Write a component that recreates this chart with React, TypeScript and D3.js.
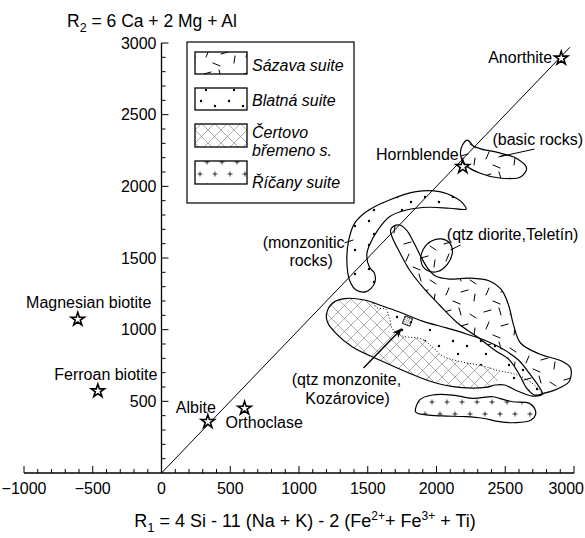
import React from 'react';
import * as d3 from 'd3';

type P = [number, number];

const xTickValues = [-1000, -500, 0, 500, 1000, 1500, 2000, 2500, 3000];
const yTickValues = [500, 1000, 1500, 2000, 2500, 3000];

const sazavaOutline: P[] = [[1680,1716],[1731,1730],[1782,1695],[1833,1612],[1884,1514],[1935,1430],[1993,1374],[2095,1353],[2240,1360],[2385,1340],[2473,1277],[2524,1172],[2560,1033],[2611,907],[2749,830],[2909,781],[2975,733],[2967,642],[2909,600],[2793,558],[2713,544],[2655,593],[2604,684],[2531,788],[2422,858],[2298,949],[2153,1047],[2022,1172],[1905,1291],[1804,1416],[1731,1542],[1680,1640],[1665,1688]];
const teletinOutline: P[] = [[2036,1633],[2095,1605],[2116,1542],[2080,1458],[2007,1406],[1927,1416],[1887,1479],[1905,1563],[1964,1619]];
const monzoniticOutline: P[] = [[2216,1842],[2189,1884],[2145,1917],[2022,1963],[1852,1963],[1658,1905],[1489,1823],[1404,1742],[1362,1626],[1348,1486],[1367,1347],[1416,1277],[1489,1265],[1549,1323],[1549,1393],[1513,1435],[1493,1521],[1513,1591],[1573,1695],[1658,1788],[1780,1835],[1949,1854],[2095,1847]];
const basicRocksOutline: P[] = [[2225,2323],[2269,2281],[2327,2260],[2458,2233],[2589,2191],[2655,2128],[2611,2065],[2458,2058],[2313,2093],[2211,2149],[2175,2219],[2189,2288]];
const certovoTop: P[] = [[1200,1109],[1244,1186],[1331,1217],[1476,1207],[1607,1165],[1731,1123],[1898,1060],[2073,1012],[2218,970],[2364,921],[2495,858],[2596,788],[2684,684],[2756,586],[2771,551]];
const certovoBottom: P[] = [[2698,537],[2589,572],[2495,614],[2429,614],[2356,597],[2167,597],[1971,635],[1782,705],[1585,788],[1389,879],[1265,977],[1207,1053]];
const kozarovDotted: P[] = [[1542,1186],[1571,1151],[1629,1144],[1658,1081],[1680,1005],[1753,956],[1891,935],[1971,879],[2044,816],[2189,774],[2335,747],[2458,712],[2567,691],[2662,649],[2735,593],[2764,558]];
const ricanyOutline: P[] = [[1847,428],[1876,509],[1971,544],[2116,544],[2262,521],[2407,532],[2458,521],[2553,497],[2676,486],[2713,451],[2720,405],[2689,370],[2580,351],[2458,358],[2335,382],[2216,393],[2044,398],[1925,405],[1862,417]];

const mineralNames = ['Anorthite', 'Hornblende', 'Magnesian biotite', 'Ferroan biotite', 'Albite', 'Orthoclase'];
const mineralR1 = [2907, 2191, -609, -463, 337, 604];
const mineralR2 = [2893, 2137, 1072, 572, 358, 451];

const referenceLine: P[] = [[0, 0], [2970, 2970]];
const kozarovicePoint: P = [1789, 1060];
const kozaroviceArrow: P[] = [[1469, 733], [1745, 1005]];
const basicLeader: P[] = [[2713, 2260], [2451, 2205]];
const teletinLeader: P[] = [[2175, 1591], [2102, 1556]];
const monzLeader: P[] = [[1331, 1605], [1396, 1626]];

const fieldLabels: { text: string; at: P; anchor: string }[] = [
  { text: '(basic rocks)', at: [2407, 2288], anchor: 'start' },
  { text: '(qtz diorite,Teletín)', at: [2075, 1626], anchor: 'start' },
  { text: '(monzonitic', at: [1331, 1570], anchor: 'end' },
  { text: 'rocks)', at: [1247, 1444], anchor: 'end' },
  { text: '(qtz monzonite,', at: [1345, 614], anchor: 'middle' },
  { text: 'Kozárovice)', at: [1353, 481], anchor: 'middle' },
];

const legendLabels = [['Sázava suite'], ['Blatná suite'], ['Čertovo', 'břemeno s.'], ['Říčany suite']];
const legendPatterns = ['dashPat', 'dotPat', 'hatchPat', 'plusPat'];

const FONT = '"Liberation Sans", Arial, Helvetica, sans-serif';

export default function App() {
  const x = d3.scaleLinear().domain([-1000, 3000]).range([24, 574]);
  const y = d3.scaleLinear().domain([0, 3000]).range([473, 43]);
  const closed = d3.line<P>().x(d => x(d[0])).y(d => y(d[1])).curve(d3.curveCatmullRomClosed.alpha(0.5));
  const open = d3.line<P>().x(d => x(d[0])).y(d => y(d[1])).curve(d3.curveCatmullRom.alpha(0.5));
  const straight = d3.line<P>().x(d => x(d[0])).y(d => y(d[1]));
  const starPath = d3.symbol().type(d3.symbolStar).size(55)() as string;

  const certovoPoly: P[] = [...certovoTop.slice(0, 4), ...kozarovDotted.slice(0, 12), ...certovoBottom.slice(3)];
  const kozarPoly: P[] = [kozarovDotted[0], ...certovoTop.slice(4), ...certovoBottom.slice(0, 3), ...kozarovDotted.slice(1, 12).reverse()];
  const certovoOutline: P[] = [...certovoTop, ...certovoBottom];

  const xMinor = d3.range(-1000, 3001, 100);
  const yMinor = d3.range(100, 3001, 100);

  const mineralOffsets: Record<string, { dx: number; dy: number; anchor: string }> = {
    'Anorthite': { dx: -9, dy: 5, anchor: 'end' },
    'Hornblende': { dx: -4, dy: -7, anchor: 'end' },
    'Magnesian biotite': { dx: 11, dy: -11, anchor: 'middle' },
    'Ferroan biotite': { dx: 8, dy: -11, anchor: 'middle' },
    'Albite': { dx: -12, dy: -9, anchor: 'middle' },
    'Orthoclase': { dx: -19, dy: 20, anchor: 'start' },
  };

  const legendX = 187, legendY = 42, legendW = 167, legendH = 161;
  const swatchY = [52, 88, 124, 161];
  const swatchH = [22, 22, 23, 23];
  const textY = [[70.5], [105.5], [138], [187.5]];
  const textY2 = 155.5;

  return (
    <svg width={585} height={538} style={{ position: 'absolute', left: 0, top: 0, background: '#fff' }} fontFamily={FONT}>
      <defs>
        <pattern id="dashPat" patternUnits="userSpaceOnUse" width={40} height={34}>
          <g stroke="#000" strokeWidth={1} strokeLinecap="round">
            <line x1={4} y1={6} x2={11} y2={4} />
            <line x1={19} y1={2} x2={21} y2={9} />
            <line x1={30} y1={8} x2={36} y2={12} />
            <line x1={9} y1={16} x2={6} y2={23} />
            <line x1={21} y1={20} x2={28} y2={18} />
            <line x1={35} y1={22} x2={34} y2={29} />
            <line x1={13} y1={29} x2={20} y2={32} />
          </g>
        </pattern>
        <pattern id="dotPat" patternUnits="userSpaceOnUse" width={28} height={24}>
          <circle cx={5} cy={5} r={1.2} fill="#000" />
          <circle cx={19} cy={10} r={1.2} fill="#000" />
          <circle cx={10} cy={18} r={1.2} fill="#000" />
        </pattern>
        <pattern id="fineDotPat" patternUnits="userSpaceOnUse" width={2} height={2}>
          <rect x={0} y={0} width={1} height={1} fill="#555" />
        </pattern>
        <pattern id="hatchPat" patternUnits="userSpaceOnUse" width={13} height={13}>
          <g stroke="#777" strokeWidth={0.6}>
            <line x1={0} y1={0} x2={13} y2={13} />
            <line x1={13} y1={0} x2={0} y2={13} />
          </g>
        </pattern>
        <pattern id="plusPat" patternUnits="userSpaceOnUse" width={30} height={24}>
          <g stroke="#000" strokeWidth={0.8}>
            <line x1={2.5} y1={6} x2={7.5} y2={6} /><line x1={5} y1={3.5} x2={5} y2={8.5} />
            <line x1={17.5} y1={6} x2={22.5} y2={6} /><line x1={20} y1={3.5} x2={20} y2={8.5} />
            <line x1={9.5} y1={18} x2={14.5} y2={18} /><line x1={12} y1={15.5} x2={12} y2={20.5} />
            <line x1={24.5} y1={18} x2={29.5} y2={18} /><line x1={27} y1={15.5} x2={27} y2={20.5} />
          </g>
        </pattern>
        <marker id="arrowHead" viewBox="0 0 10 10" refX={9} refY={5} markerWidth={7} markerHeight={7} orient="auto">
          <path d="M0,1 L10,5 L0,9 L3,5 Z" fill="#000" />
        </marker>
      </defs>

      {/* pattern fills */}
      <path d={closed(sazavaOutline)!} fill="url(#dashPat)" />
      <path d={closed(teletinOutline)!} fill="url(#dashPat)" />
      <path d={closed(basicRocksOutline)!} fill="url(#dashPat)" />
      <path d={closed(monzoniticOutline)!} fill="url(#dotPat)" />
      <path d={closed(certovoPoly)!} fill="url(#hatchPat)" />
      <path d={closed(kozarPoly)!} fill="url(#dotPat)" />
      <path d={closed(ricanyOutline)!} fill="url(#plusPat)" />

      {/* outlines */}
      <g fill="none" stroke="#000" strokeWidth={1.2}>
        <path d={closed(sazavaOutline)!} />
        <path d={closed(teletinOutline)!} />
        <path d={closed(basicRocksOutline)!} />
        <path d={closed(monzoniticOutline)!} />
        <path d={closed(certovoOutline)!} />
        <path d={closed(ricanyOutline)!} />
      </g>
      <path d={open(kozarovDotted)!} fill="none" stroke="#000" strokeWidth={1} strokeDasharray="1 2" />

      {/* reference line */}
      <path d={straight(referenceLine)!} stroke="#000" strokeWidth={1} fill="none" />

      {/* leaders */}
      <g stroke="#000" strokeWidth={1} fill="none">
        <path d={straight(basicLeader)!} />
        <path d={straight(teletinLeader)!} />
        <path d={straight(monzLeader)!} />
        <path d={straight(kozaroviceArrow)!} strokeWidth={1.4} markerEnd="url(#arrowHead)" />
      </g>
      <rect x={x(kozarovicePoint[0]) - 4} y={y(kozarovicePoint[1]) - 4} width={8} height={8}
        fill="url(#fineDotPat)" stroke="#000" strokeWidth={0.8}
        transform={`rotate(20 ${x(kozarovicePoint[0])} ${y(kozarovicePoint[1])})`} />

      {/* axes */}
      <g stroke="#000" strokeWidth={1.3}>
        <line x1={x(-1000)} y1={y(0)} x2={x(3000)} y2={y(0)} />
        <line x1={x(0)} y1={y(0)} x2={x(0)} y2={y(3000)} />
        {xMinor.map(v => (
          <line key={'xt' + v} x1={x(v)} x2={x(v)} y1={y(0)} y2={y(0) - (v % 500 === 0 ? 7 : 4)} strokeWidth={1} />
        ))}
        {yMinor.map(v => (
          <line key={'yt' + v} x1={x(0)} x2={x(0) + (v % 500 === 0 ? 7 : 4)} y1={y(v)} y2={y(v)} strokeWidth={1} />
        ))}
      </g>
      <g fontSize={16} fill="#000">
        {xTickValues.map(v => (
          <text key={'xl' + v} x={v === 3000 ? 584 : x(v)} y={y(0) + 21} textAnchor={v === 3000 ? 'end' : 'middle'}>
            {v < 0 ? '\u2212' + Math.abs(v) : String(v)}
          </text>
        ))}
        {yTickValues.map(v => (
          <text key={'yl' + v} x={x(0) - 5} y={y(v) + 5.5} textAnchor="end">{v}</text>
        ))}
      </g>

      {/* axis titles */}
      <text x={67} y={27} fontSize={17.5}>R<tspan fontSize={12.5} dy={5}>2</tspan><tspan dy={-5}> = 6 Ca + 2 Mg + Al</tspan></text>
      <text x={305} y={527} fontSize={18} textAnchor="middle">
        R<tspan fontSize={13} dy={5}>1</tspan><tspan dy={-5}> = 4 Si - 11 (Na + K) - 2 (Fe</tspan>
        <tspan fontSize={12} dy={-7}>2+</tspan><tspan dy={7}>+ Fe</tspan>
        <tspan fontSize={12} dy={-7}>3+</tspan><tspan dy={7}> + Ti)</tspan>
      </text>

      {/* minerals */}
      {mineralNames.map((n, i) => {
        const px = x(mineralR1[i]), py = y(mineralR2[i]);
        const o = mineralOffsets[n];
        return (
          <g key={n}>
            <path d={starPath} transform={`translate(${px},${py})`} fill="#fff" stroke="#000" strokeWidth={1.6} />
            <text x={px + o.dx} y={py + o.dy} fontSize={16} textAnchor={o.anchor}>{n}</text>
          </g>
        );
      })}

      {/* field labels */}
      {fieldLabels.map((l, i) => (
        <text key={'fl' + i} x={x(l.at[0])} y={y(l.at[1])} fontSize={16} textAnchor={l.anchor}>{l.text}</text>
      ))}

      {/* legend */}
      <rect x={legendX} y={legendY} width={legendW} height={legendH} fill="#fff" stroke="#000" strokeWidth={1.2} />
      {legendLabels.map((lab, i) => (
        <g key={'lg' + i}>
          <rect x={195} y={swatchY[i]} width={52} height={swatchH[i]} fill={`url(#${legendPatterns[i]})`} stroke="#000" strokeWidth={1.3} />
          {lab.map((t, j) => (
            <text key={j} x={252} y={j === 0 ? textY[i][0] : textY2} fontSize={16} fontStyle="italic">{t}</text>
          ))}
        </g>
      ))}
    </svg>
  );
}
